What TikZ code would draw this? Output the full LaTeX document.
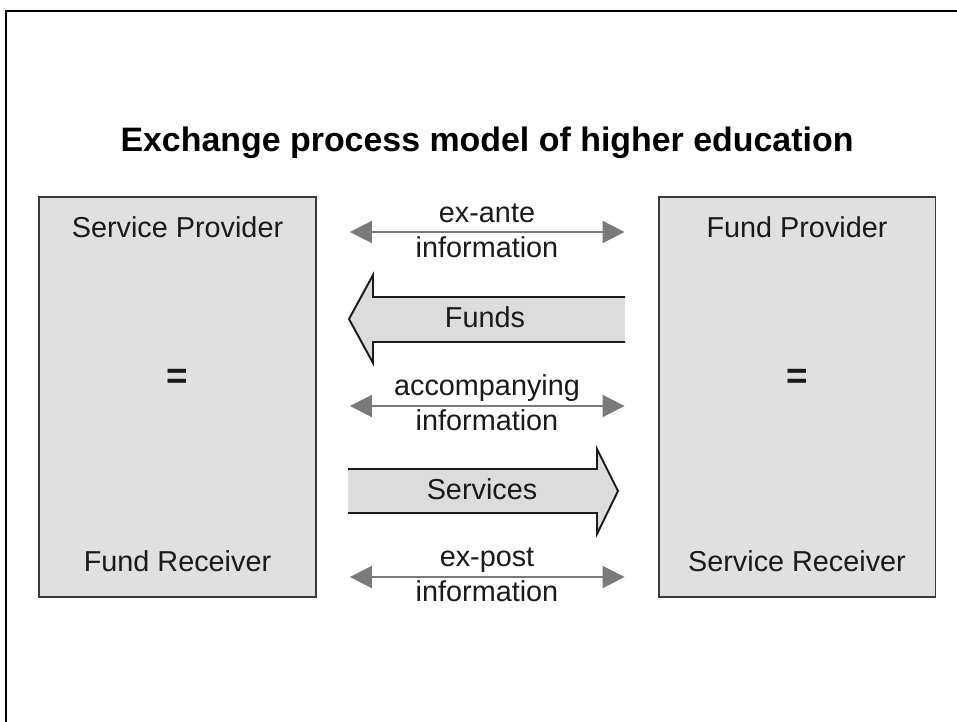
\documentclass[tikz,border=0pt]{standalone}
\usepackage{fontspec}
\setmainfont{Liberation Sans}
\usepackage{xcolor}
\definecolor{exchDark}{HTML}{1A1A1A}
\definecolor{exchBorder}{HTML}{3A3A3A}
\definecolor{exchBox}{HTML}{E0E0E0}
\definecolor{exchArrow}{HTML}{7A7A7A}
\definecolor{exchFat}{HTML}{DCDCDC}
\usepackage{tikz}
\usetikzlibrary{arrows.meta,positioning}
\tikzset{
    party/.style={
        draw=exchBorder,
        fill=exchBox,
        rectangle,
        line width=1.1pt,
        minimum width=5.54cm,
        minimum height=8cm,
        inner sep=0pt
    },
    ptext/.style={
        font=\fontsize{16.4}{19}\selectfont,
        text=exchDark,
        anchor=base,
        inner sep=0pt
    },
    eqsign/.style={
        font=\fontsize{21}{24}\selectfont\bfseries,
        text=exchDark,
        anchor=base,
        inner sep=0pt
    },
    heading/.style={
        font=\fontsize{19.3}{23}\selectfont\bfseries,
        text=black,
        anchor=base,
        inner sep=0pt
    },
    info/.style={
        <->,
        >={Triangle[length=0.44cm,width=0.44cm]},
        line width=1.1pt,
        color=exchArrow,
        shorten <=0.66cm,
        shorten >=0.66cm
    },
    fat/.style={
        draw=exchDark,
        line width=1.1pt,
        line join=miter
    },
    frame/.style={
        draw=black,
        line width=1.3pt
    }
}

\begin{document}
\begin{tikzpicture}[x=0.02cm, y=-0.02cm]
    \useasboundingbox (0,0) rectangle (957,722);
    \draw[frame] (6,722) -- (6,11) -- (957,11);

    \node[heading] (ttl) at (487,152) {Exchange process model of higher education};

    \node[party] (sp) at (177.5,397) {};
    \node[party] (fp) at (797,397) {};
    \node[ptext] (spname) at (177.5,238) {Service Provider};
    \node[eqsign] (speq) at (177.5,389) {=};
    \node[ptext] (frname) at (177.5,572) {Fund Receiver};
    \node[ptext] (fpname) at (797,238) {Fund Provider};
    \node[eqsign] (fpeq) at (797,389) {=};
    \node[ptext] (srname) at (797,572) {Service Receiver};

    % information flows
    \coordinate (exante) at (487,232);
    \coordinate (accomp) at (487,406);
    \coordinate (expost) at (487,577);
    \draw[info] (sp.east |- exante) -- (fp.west |- exante);
    \draw[info] (sp.east |- accomp) -- (fp.west |- accomp);
    \draw[info] (sp.east |- expost) -- (fp.west |- expost);
    \node[ptext] (exantetop) at (487,223) {ex-ante};
    \node[ptext] (exantebot) at (487,258) {information};
    \node[ptext] (accomptop) at (487,396) {accompanying};
    \node[ptext] (accompbot) at (487,431) {information};
    \node[ptext] (exposttop) at (487,567) {ex-post};
    \node[ptext] (expostbot) at (487,602) {information};

    % funds and services
    \fill[exchFat] (625,297) -- (373,297) -- (373,275) -- (349,319) -- (373,363) -- (373,342) -- (625,342) -- cycle;
    \draw[fat] (625,297) -- (373,297) -- (373,275) -- (349,319) -- (373,363) -- (373,342) -- (625,342);
    \fill[exchFat] (348,469) -- (597,469) -- (597,449) -- (618,491) -- (597,534) -- (597,513) -- (348,513) -- cycle;
    \draw[fat] (348,469) -- (597,469) -- (597,449) -- (618,491) -- (597,534) -- (597,513) -- (348,513);
    \node[ptext] (funds) at (485,328) {Funds};
    \node[ptext] (services) at (482,500) {Services};
\end{tikzpicture}
\end{document}
